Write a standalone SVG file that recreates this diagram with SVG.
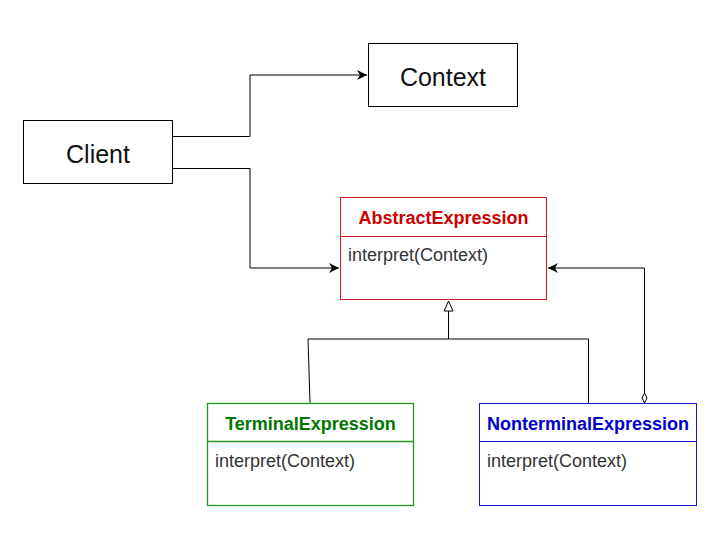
<svg xmlns="http://www.w3.org/2000/svg" width="720" height="541" viewBox="0 0 720 541">
<style>
  .box{fill:#fff;stroke:#000;stroke-width:1}
  .big{font-family:"Liberation Sans",Arial,sans-serif;font-size:25px;fill:#111;text-anchor:middle}
  .title{font-family:"Liberation Sans",Arial,sans-serif;font-size:18px;font-weight:bold;text-anchor:middle}
  .op{font-family:"Liberation Sans",Arial,sans-serif;font-size:18px;fill:#333}
  .conn{fill:none;stroke:#000;stroke-width:1}
</style>
<defs>
  <marker id="arrow" viewBox="0 0 10 10" refX="10" refY="5" markerWidth="10" markerHeight="10" markerUnits="userSpaceOnUse" orient="auto">
    <path d="M0,0 L10,5 L0,10 L3,5 Z" fill="#000"/>
  </marker>
  <marker id="tri" viewBox="0 0 12 12" refX="11" refY="6" markerWidth="12" markerHeight="12" markerUnits="userSpaceOnUse" orient="auto">
    <path d="M1,1.5 L11,6 L1,10.5 Z" fill="#fff" stroke="#000" stroke-width="1"/>
  </marker>
  <marker id="diamond" viewBox="0 0 11 7" refX="10.5" refY="3.5" markerWidth="11" markerHeight="7" markerUnits="userSpaceOnUse" orient="auto">
    <path d="M0.5,3.5 L5.5,1 L10.5,3.5 L5.5,6 Z" fill="#fff" stroke="#000" stroke-width="1"/>
  </marker>
</defs>
<rect width="720" height="541" fill="#fff"/>
<g id="connectors">
  <path class="conn" d="M173,136.5 H250 V75 H367" marker-end="url(#arrow)"/>
  <path class="conn" d="M173,168.5 H250 V268 H339" marker-end="url(#arrow)"/>
  <path class="conn" d="M308,339 H448.5 V301" marker-end="url(#tri)"/>
  <path class="conn" d="M310,403 L308,339"/>
  <path class="conn" d="M588.5,403 V339 H448.5"/>
  <path class="conn" d="M644.5,268 V403" marker-end="url(#diamond)"/>
  <path class="conn" d="M644.5,268 H548" marker-end="url(#arrow)"/>
</g>
<g id="client">
  <rect class="box" x="23.5" y="120.5" width="149" height="63"/>
  <text class="big" x="98" y="163">Client</text>
</g>
<g id="context">
  <rect class="box" x="368.5" y="43.5" width="149" height="63"/>
  <text class="big" x="443" y="86">Context</text>
</g>
<g id="abstractExpression">
  <rect x="340.5" y="197.5" width="206" height="102" fill="#fff" stroke="#d0191d"/>
  <line x1="340.5" y1="236.5" x2="546.5" y2="236.5" stroke="#d0191d"/>
  <text class="title" x="443.5" y="223.5" fill="#cc0000">AbstractExpression</text>
  <text class="op" x="348" y="261">interpret(Context)</text>
</g>
<g id="terminalExpression">
  <rect x="207.5" y="403.5" width="206" height="102" fill="#fff" stroke="#1f9a1f" stroke-width="1.3"/>
  <line x1="207.5" y1="441.5" x2="413.5" y2="441.5" stroke="#1f9a1f" stroke-width="1.3"/>
  <text class="title" x="310.5" y="429.5" fill="#007700">TerminalExpression</text>
  <text class="op" x="215" y="467">interpret(Context)</text>
</g>
<g id="nonterminalExpression">
  <rect x="479.5" y="403.5" width="217" height="102" fill="#fff" stroke="#1515d0"/>
  <line x1="479.5" y1="441.5" x2="696.5" y2="441.5" stroke="#1515d0"/>
  <text class="title" x="588" y="429.5" fill="#0000cc">NonterminalExpression</text>
  <text class="op" x="487" y="467">interpret(Context)</text>
</g>
</svg>
